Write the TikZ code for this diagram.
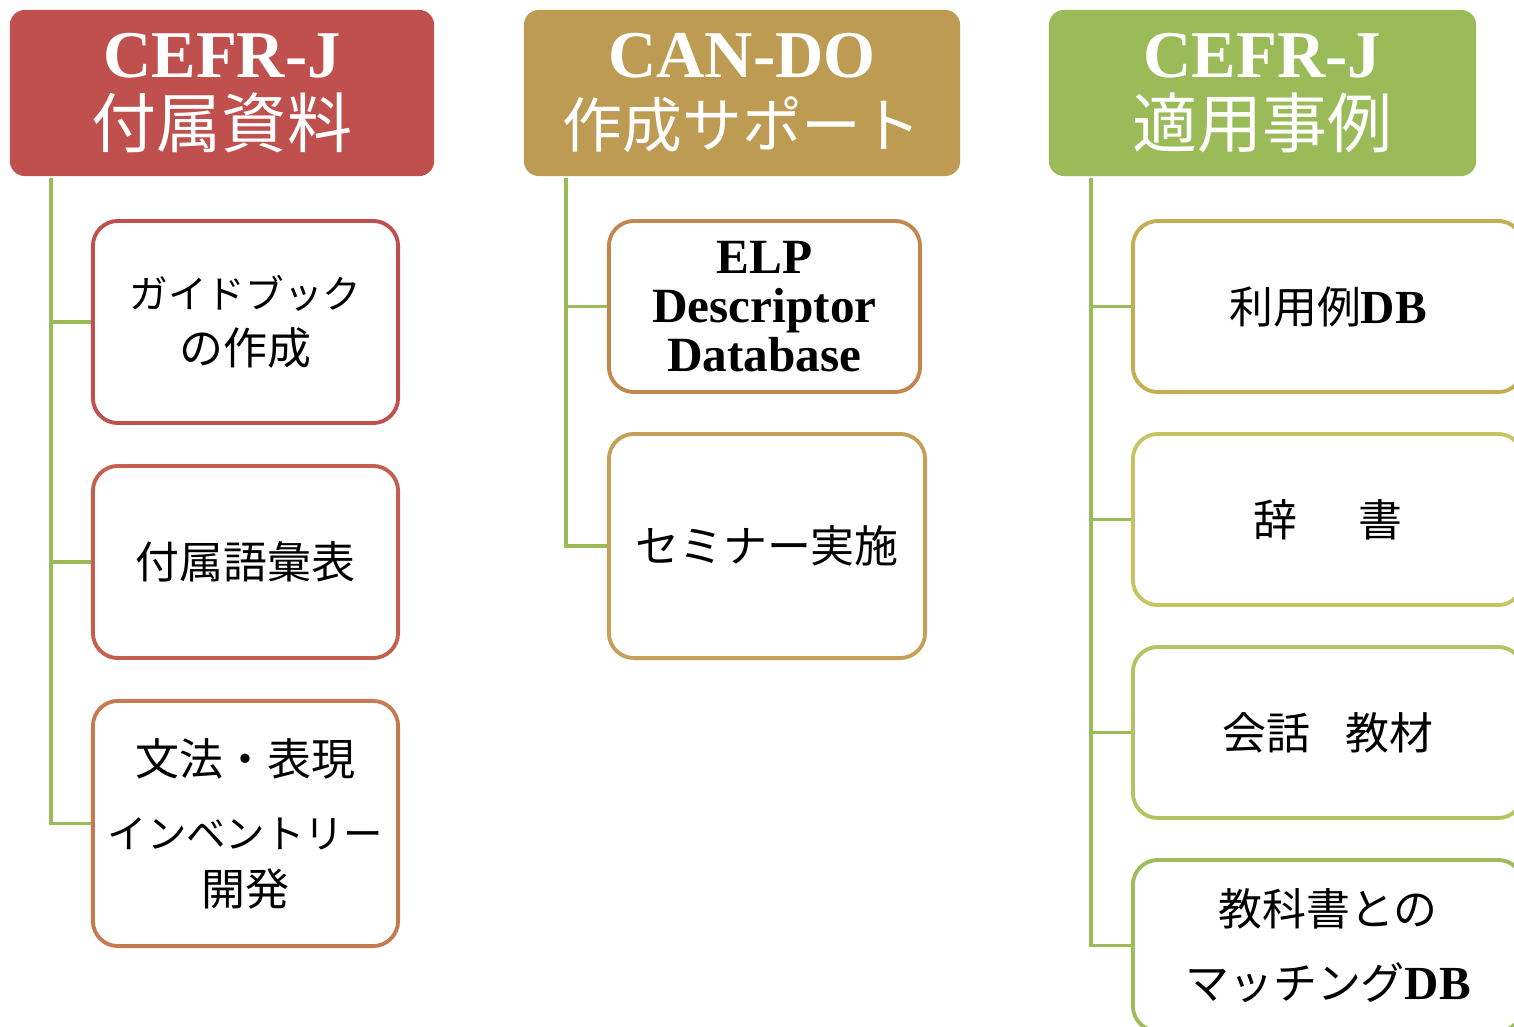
\documentclass[tikz,border=0pt]{standalone}
\usepackage{fontspec}
\setmainfont{Liberation Serif}
\newfontfamily\jp{Noto Sans CJK JP}
\usepackage{tikz}

\definecolor{hdred}{HTML}{C0504D}
\definecolor{hdgold}{HTML}{BE9B53}
\definecolor{hdgreen}{HTML}{9BBB59}
\definecolor{edgeA}{HTML}{C0504D}
\definecolor{edgeB}{HTML}{C5604F}
\definecolor{edgeC}{HTML}{C67A50}
\definecolor{edgeD}{HTML}{C0874F}
\definecolor{edgeE}{HTML}{C4A058}
\definecolor{edgeF}{HTML}{C3AE54}
\definecolor{edgeG}{HTML}{C6C462}
\definecolor{edgeH}{HTML}{B4C463}
\definecolor{edgeI}{HTML}{9EBD5A}

\newcommand{\hdsize}{\fontsize{19}{20}\selectfont}
\newcommand{\jpsize}{\fontsize{12.5}{16}\selectfont}

\tikzset{
  hdbox/.style={rounded corners=0.15cm, minimum height=1.66cm, inner sep=0pt,
    text=white, align=center, font=\hdsize},
  itembox/.style={draw, line width=1.1pt, fill=white, rounded corners=0.25cm,
    inner sep=0pt, align=center, font=\jpsize},
  trunk/.style={draw=hdgreen, line width=1.1pt}
}

\begin{document}
\begin{tikzpicture}[x=0.01cm,y=-0.01cm]
\useasboundingbox (0,0) rectangle (1514,1027);
\clip (0,0) rectangle (1514,1027);

% headers
\node[hdbox,fill=hdred,minimum width=4.24cm] at (222,93) (h1)
  {\textbf{CEFR-J}\\{\jp\fontsize{18.5}{20}\selectfont 付属資料}};
\node[hdbox,fill=hdgold,minimum width=4.36cm] at (742,93) (h2)
  {\textbf{CAN-DO}\\{\jp\fontsize{17}{20}\selectfont 作成サポート}};
\node[hdbox,fill=hdgreen,minimum width=4.27cm] at (1262.5,93) (h3)
  {\textbf{CEFR-J}\\{\jp\fontsize{18.5}{20}\selectfont 適用事例}};

% left column
\node[itembox,draw=edgeA,minimum width=3.05cm,minimum height=2.02cm] at (245.5,322) (b11)
  {\jp\fontsize{11}{16}\selectfont ガイドブック\\\jp の作成};
\node[itembox,draw=edgeB,minimum width=3.05cm,minimum height=1.92cm] at (245.5,562) (b12)
  {\jp 付属語彙表};
\node[itembox,draw=edgeC,minimum width=3.05cm,minimum height=2.45cm] at (245.5,823.5) (b13)
  {\jp 文法・表現\\[5pt]\jp\fontsize{11.2}{16}\selectfont インベントリー\\\jp 開発};

% middle column
\node[itembox,draw=edgeD,minimum width=3.11cm,minimum height=1.71cm,
  font=\fontsize{14}{14}\selectfont\bfseries] at (764.5,306.5) (b21)
  {ELP\\Descriptor\\Database};
\node[itembox,draw=edgeE,minimum width=3.16cm,minimum height=2.24cm] at (767,546) (b22)
  {\jp セミナー実施};

% right column
\node[itembox,draw=edgeF,minimum width=3.9cm,minimum height=1.71cm] at (1328,306.5) (b31)
  {{\jp 利用例}{\fontsize{13.5}{16}\selectfont\bfseries DB}};
\node[itembox,draw=edgeG,minimum width=3.9cm,minimum height=1.71cm] at (1328,519.5) (b32)
  {\jp 辞\hspace{1.4em}書};
\node[itembox,draw=edgeH,minimum width=3.9cm,minimum height=1.71cm] at (1328,732.5) (b33)
  {\jp 会話\hspace{0.8em}教材};
\node[itembox,draw=edgeI,minimum width=3.9cm,minimum height=1.71cm] at (1328,945.5) (b34)
  {\jp 教科書との\\[5pt]{\jp マッチング}{\fontsize{13.5}{16}\selectfont\bfseries DB}};

% connectors
\coordinate (t1) at (51,178);
\coordinate (t2) at (566,178);
\coordinate (t3) at (1091,178);
\foreach \b in {b11,b12,b13} \draw[trunk] (t1) |- (\b.west);
\foreach \b in {b21,b22} \draw[trunk] (t2) |- (\b.west);
\foreach \b in {b31,b32,b33,b34} \draw[trunk] (t3) |- (\b.west);
\end{tikzpicture}
\end{document}
